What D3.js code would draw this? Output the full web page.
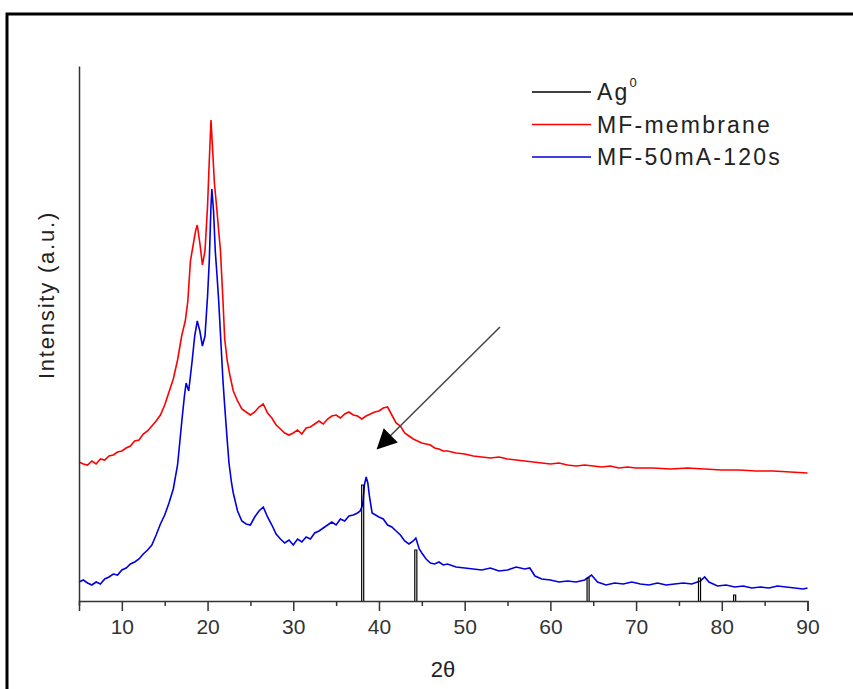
<!DOCTYPE html>
<html><head><meta charset="utf-8">
<script src="https://cdn.jsdelivr.net/npm/d3@7"></script>
<style>body{margin:0;background:#fff;}svg{display:block;font-family:"Liberation Sans",Arial,sans-serif;}</style>
</head><body>
<script>
// 2θ positions and intensities (a.u.)
const blueX = [5,5.5,6,6.5,7,7.5,8,8.5,9,9.5,10,10.5,11,11.5,12,12.5,13,13.5,14,14.5,15,15.5,16,16.5,17,17.3,17.5,17.8,18.2,18.5,18.8,19.1,19.4,19.7,20,20.2,20.4,20.5,20.7,20.9,21.1,21.3,21.5,21.8,22,22.3,22.5,22.8,23,23.5,24,24.5,25,25.5,26,26.5,27,27.5,28,28.5,29,29.5,30,30.5,31,31.5,32,32.5,33,33.5,34,34.5,35,35.5,36,36.5,37,37.5,37.8,38.1,38.3,38.5,38.7,38.9,39.2,39.6,40,40.5,41,41.5,42,42.5,43,43.5,44,44.3,44.7,45,45.5,46,46.5,47,47.5,48,49,50,51,52,53,54,55,56,57,57.6,58.2,59,60,61,62,63,64,64.8,65.5,66.5,67.5,68.5,69.5,70.5,71.5,72.5,73.5,74.5,75.5,76.5,77.5,78,78.5,79.5,80.5,81.5,82.5,83.5,84.5,85.5,86.5,87.5,88.5,89.5,90];
const blueY = [19,21,18,16,19,17,22,24,27,26,31,33,37,39,42,47,51,56,66,77,86,98,112,136,180,205,218,210,240,265,280,270,255,265,305,340,395,412,390,350,326,300,268,220,195,160,138,118,108,90,80,77,76,84,90,94,84,76,67,62,58,61,56,62,59,64,62,68,70,73,76,79,76,82,80,85,86,88,90,96,116,124,118,104,88,86,84,82,76,74,70,66,60,57,60,63,52,48,42,38,37,39,36,37,34,33,32,31,33,30,31,34,32,33,25,22,21,19,20,19,21,26,19,16,18,17,19,17,16,18,16,17,18,17,20,24,19,15,16,14,15,13,14,13,15,14,13,12,13];

const redX = [5,5.5,6,6.5,7,7.5,8,8.5,9,9.5,10,10.5,11,11.5,12,12.5,13,13.5,14,14.5,15,15.5,16,16.5,17,17.4,17.7,18,18.3,18.6,18.8,19.1,19.4,19.7,20,20.2,20.4,20.6,20.8,21.1,21.3,21.5,21.8,22,22.3,22.6,23,23.5,24,24.5,25,25.5,26,26.5,27,27.5,28,28.5,29,29.5,30,30.5,31,31.5,32,32.5,33,33.5,34,34.5,35,35.5,36,36.5,37,37.5,38,38.5,39,39.5,40,40.5,41,41.5,42,42.5,43,43.5,44,44.5,45,45.5,46,46.5,47,47.5,48,49,50,51,52,53,54,55,56,57,58,59,60,61,62,63,64,65,66,67,68,69,70,72,74,76,78,80,82,84,86,88,90];
const redY = [139,137,136,140,137,142,141,145,146,149,150,153,155,160,161,167,170,175,180,186,196,209,222,241,266,280,300,340,355,370,376,358,336,350,395,440,481,450,418,390,370,351,300,262,240,226,210,200,192,189,186,189,194,197,188,183,176,172,168,166,168,171,167,173,174,177,180,177,182,185,186,183,187,189,186,185,182,185,187,189,190,193,194,186,178,175,168,165,162,160,158,157,156,153,152,150,150,148,147,145,144,143,144,142,141,140,139,138,137,138,136,135,136,135,134,135,133,134,133,133,132,133,132,131,131,130,130,129,128];

// Ag0 reference pattern (stick positions and heights)
const agPos = [38.1, 44.3, 64.4, 77.4, 81.5];
const agInt = [116, 51, 23, 23, 6];

const xTicks = [10,20,30,40,50,60,70,80,90];
const xMinor = [5,15,25,35,45,55,65,75,85];
const legendItems = ["Ag", "MF-membrane", "MF-50mA-120s"];
const legendColors = ["#000000", "#ff0000", "#0000e0"];

const W = 853, H = 689;
const svg = d3.select("body").append("svg").attr("width", W).attr("height", H);

// outer frame
svg.append("rect").attr("x", 7).attr("y", 14).attr("width", W + 10).attr("height", H + 10)
  .attr("fill", "none").attr("stroke", "#000").attr("stroke-width", 3);

const x = d3.scaleLinear().domain([5, 90]).range([79, 807.5]);
const y = d3.scaleLinear().domain([0, 535]).range([601, 66]);

const line = d3.line().x(d => x(d[0])).y(d => y(d[1]));

svg.append("path").datum(redX.map((v, i) => [v, redY[i]]))
  .attr("d", line).attr("fill", "none").attr("stroke", "#ff0000").attr("stroke-width", 1.6).attr("stroke-linejoin", "miter");
svg.append("path").datum(blueX.map((v, i) => [v, blueY[i]]))
  .attr("d", line).attr("fill", "none").attr("stroke", "#0000e0").attr("stroke-width", 1.6);

// Ag sticks
agPos.forEach((p, i) => {
  const pts = [[p - 0.12, 0], [p - 0.12, agInt[i]], [p + 0.12, agInt[i]], [p + 0.12, 0]];
  svg.append("path").datum(pts).attr("d", line).attr("fill", "none").attr("stroke", "#000").attr("stroke-width", 1.2);
});

// axes
const xAxis = d3.axisBottom(x).tickValues(xTicks).tickSize(10).tickPadding(8).tickFormat(d3.format("d"));
const gx = svg.append("g").attr("transform", "translate(0,601)").call(xAxis);
gx.select(".domain").attr("stroke", "#333").attr("stroke-width", 1.5);
gx.selectAll(".tick line").attr("stroke", "#333").attr("stroke-width", 1.5);
gx.selectAll(".tick text").attr("font-size", 21).attr("fill", "#333").attr("font-family", "Liberation Sans, Arial, sans-serif");
svg.append("g").attr("transform", "translate(0,601)")
  .call(d3.axisBottom(x).tickValues(xMinor).tickSize(5).tickFormat(""))
  .call(g => g.select(".domain").remove())
  .selectAll(".tick line").attr("stroke", "#333").attr("stroke-width", 1.5);

const gy = svg.append("g").attr("transform", "translate(79,0)").call(d3.axisLeft(y).tickValues([]).tickSizeOuter(0));
gy.select(".domain").attr("stroke", "#333").attr("stroke-width", 1.5);

svg.append("text").attr("x", 443).attr("y", 677).attr("text-anchor", "middle")
  .attr("font-size", 22).attr("fill", "#222").text("2θ");
svg.append("text").attr("transform", "translate(54,295) rotate(-90)").attr("text-anchor", "middle")
  .attr("font-size", 22).attr("letter-spacing", 1.8).attr("fill", "#222").text("Intensity (a.u.)");

// arrow
svg.append("defs").append("marker").attr("id", "ah").attr("viewBox", "0 0 10 10")
  .attr("refX", 9).attr("refY", 5).attr("markerWidth", 7).attr("markerHeight", 7).attr("orient", "auto")
  .attr("markerUnits", "userSpaceOnUse").attr("markerWidth", 24).attr("markerHeight", 20)
  .append("path").attr("d", "M0,0 L10,5 L0,10 Z").attr("fill", "#000");
svg.append("line").attr("x1", 500).attr("y1", 327).attr("x2", 378).attr("y2", 448)
  .attr("stroke", "#444").attr("stroke-width", 1.5).attr("marker-end", "url(#ah)");

// legend
const lg = svg.append("g");
legendItems.forEach((t, i) => {
  const yy = 92 + i * 32.5;
  lg.append("line").attr("x1", 532).attr("x2", 591).attr("y1", yy).attr("y2", yy)
    .attr("stroke", legendColors[i]).attr("stroke-width", 1.3);
  const tx = lg.append("text").attr("x", 597).attr("y", yy + 8).attr("font-size", 23)
    .attr("letter-spacing", 2.2).attr("fill", "#222").text(t);
  if (i === 0) tx.append("tspan").attr("font-size", 13).attr("dy", -13).text("0");
});
</script>
</body></html>
